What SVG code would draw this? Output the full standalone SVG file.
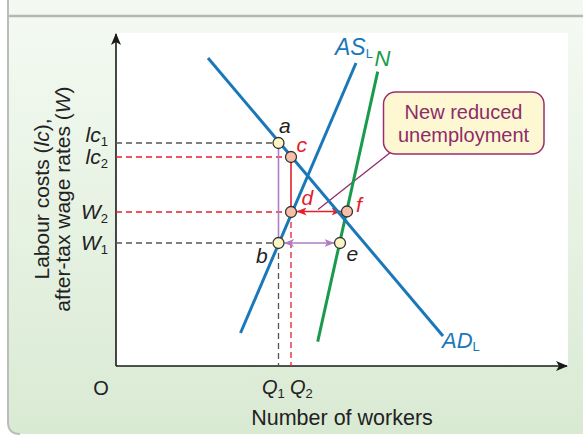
<svg xmlns="http://www.w3.org/2000/svg" width="583" height="435" viewBox="0 0 583 435">
<defs>
<linearGradient id="bg" x1="0" y1="0" x2="0" y2="1">
<stop offset="0" stop-color="#f4faf2"/>
<stop offset="1" stop-color="#d9ead3"/>
</linearGradient>
<marker id="axh" viewBox="0 0 12 10" refX="11" refY="5" markerWidth="12" markerHeight="10" markerUnits="userSpaceOnUse" orient="auto">
<path d="M0,0 L12,5 L0,10 L3,5 Z" fill="#1a1a1a"/>
</marker>
<marker id="rh" viewBox="0 0 10 8" refX="9.5" refY="4" markerWidth="10" markerHeight="8" markerUnits="userSpaceOnUse" orient="auto-start-reverse">
<path d="M0,0 L10,4 L0,8 L2.5,4 Z" fill="#e3202c"/>
</marker>
<marker id="ph" viewBox="0 0 10 8" refX="9.5" refY="4" markerWidth="10" markerHeight="8" markerUnits="userSpaceOnUse" orient="auto-start-reverse">
<path d="M0,0 L10,4 L0,8 L2.5,4 Z" fill="#b07cc4"/>
</marker>
</defs>
<style>
text{font-family:"Liberation Sans",Arial,sans-serif;fill:#222}
.it{font-style:italic}
.sub{font-size:13px;font-style:normal}
.blue{stroke:#1a78b8;stroke-width:3;fill:none}
.green{stroke:#1a9a4c;stroke-width:3;fill:none}
.dg{stroke:#555;stroke-width:1.3;stroke-dasharray:6 4;fill:none}
.dr{stroke:#e3202c;stroke-width:1.3;stroke-dasharray:6 4;fill:none}
.pt{stroke:#333;stroke-width:1.3}
.py{fill:#fbf5c6}
.ps{fill:#f6bfaa}
</style>

<!-- background frame -->
<rect x="147" y="-12" width="431" height="18" rx="9" fill="#d9ead3"/>
<path d="M8,16 H583 V434 H20 Q8,434 8,422 Z" fill="url(#bg)"/>
<rect x="8" y="0" width="575" height="16" fill="#f3f9f1"/>
<path d="M8,16 H583" stroke="#b6b6b6" stroke-width="2.5"/>
<path d="M8,0 V422 Q8,434 20,434" stroke="#bcbcbc" stroke-width="2" fill="none"/>
<rect x="116" y="33" width="452" height="333" fill="#ffffff"/>

<!-- axes -->
<g id="axes">
<line x1="116" y1="366" x2="116" y2="34" stroke="#1a1a1a" stroke-width="1.6" marker-end="url(#axh)"/>
<line x1="116" y1="366" x2="567" y2="366" stroke="#1a1a1a" stroke-width="1.6" marker-end="url(#axh)"/>
<text x="101" y="395" font-size="20" text-anchor="middle">O</text>
<text x="342" y="425" font-size="21.5" text-anchor="middle">Number of workers</text>
<text transform="translate(49,199) rotate(-90)" font-size="21" text-anchor="middle">Labour costs (<tspan class="it">lc</tspan>),</text>
<text transform="translate(70,199) rotate(-90)" font-size="21" text-anchor="middle">after-tax wage rates (<tspan class="it">W</tspan>)</text>
<text x="108" y="142" font-size="21" text-anchor="end"><tspan class="it">lc</tspan><tspan class="sub" dy="4">1</tspan></text>
<text x="108" y="163.5" font-size="21" text-anchor="end"><tspan class="it">lc</tspan><tspan class="sub" dy="4">2</tspan></text>
<text x="108" y="218.5" font-size="21" text-anchor="end"><tspan class="it">W</tspan><tspan class="sub" dy="4">2</tspan></text>
<text x="108" y="249.5" font-size="21" text-anchor="end"><tspan class="it">W</tspan><tspan class="sub" dy="4">1</tspan></text>
<text x="262" y="394" font-size="20"><tspan class="it">Q</tspan><tspan class="sub" dy="4">1</tspan></text>
<text x="290" y="394" font-size="20"><tspan class="it">Q</tspan><tspan class="sub" dy="4">2</tspan></text>
</g>

<!-- connectors -->
<g id="connectors">
<path class="dg" d="M116,143 H278.5 M116,243 H278.5 M278.5,243 V366"/>
<path class="dr" d="M116,157 H291 M116,212 H291 M291,212 V366"/>
<line x1="278.5" y1="143" x2="278.5" y2="243" stroke="#b07cc4" stroke-width="1.6"/>
<line x1="291" y1="157" x2="291" y2="212" stroke="#e3202c" stroke-width="1.6"/>
<line x1="297" y1="211.5" x2="341" y2="211.5" stroke="#e3202c" stroke-width="1.6" marker-start="url(#rh)" marker-end="url(#rh)"/>
<line x1="284.5" y1="243" x2="334" y2="243" stroke="#b07cc4" stroke-width="1.6" marker-start="url(#ph)" marker-end="url(#ph)"/>
<line x1="391" y1="152" x2="318" y2="209.5" stroke="#8e2b6b" stroke-width="1.3"/>
</g>

<!-- curves -->
<g id="curve-ASL">
<line class="blue" x1="356" y1="63" x2="240.5" y2="333"/>
<text x="335" y="55" font-size="23" style="fill:#1a78b8"><tspan class="it">AS</tspan><tspan class="sub" dy="3" font-size="14">L</tspan></text>
</g>
<g id="curve-N">
<line class="green" x1="377.7" y1="71.7" x2="317.7" y2="341.7"/>
<text x="374.5" y="66" font-size="22" class="it" style="fill:#1a9a4c">N</text>
</g>
<g id="curve-ADL">
<line class="blue" x1="208" y1="58" x2="443" y2="336"/>
<text x="442" y="348" font-size="22" style="fill:#1a78b8"><tspan class="it">AD</tspan><tspan class="sub" dy="3" font-size="14">L</tspan></text>
</g>

<!-- points -->
<g id="point-a"><circle class="pt py" cx="278.5" cy="143" r="5.5"/><text x="279" y="133" font-size="21" class="it">a</text></g>
<g id="point-c"><circle class="pt ps" cx="291" cy="157" r="5.5"/><text x="296.5" y="152" font-size="21" class="it" style="fill:#e3202c">c</text></g>
<g id="point-d"><circle class="pt ps" cx="291" cy="212" r="5.5"/><text x="301.5" y="205" font-size="21" class="it" style="fill:#e3202c">d</text></g>
<g id="point-f"><circle class="pt ps" cx="347" cy="211.5" r="5.5"/><text x="356" y="212" font-size="21" class="it" style="fill:#e3202c">f</text></g>
<g id="point-b"><circle class="pt py" cx="278.5" cy="243" r="5.5"/><text x="256" y="263" font-size="21" class="it">b</text></g>
<g id="point-e"><circle class="pt py" cx="340" cy="243" r="5.5"/><text x="346.5" y="260.5" font-size="21" class="it">e</text></g>

<!-- callout -->
<g id="callout">
<rect x="383.5" y="92" width="160.5" height="62" rx="12" fill="#fdf8d2" stroke="#9a2c70" stroke-width="1.5"/>
<text x="463.5" y="119" font-size="20" text-anchor="middle" style="fill:#8e2b6b">New reduced</text>
<text x="463.5" y="141.5" font-size="20" text-anchor="middle" style="fill:#8e2b6b">unemployment</text>
</g>
</svg>
